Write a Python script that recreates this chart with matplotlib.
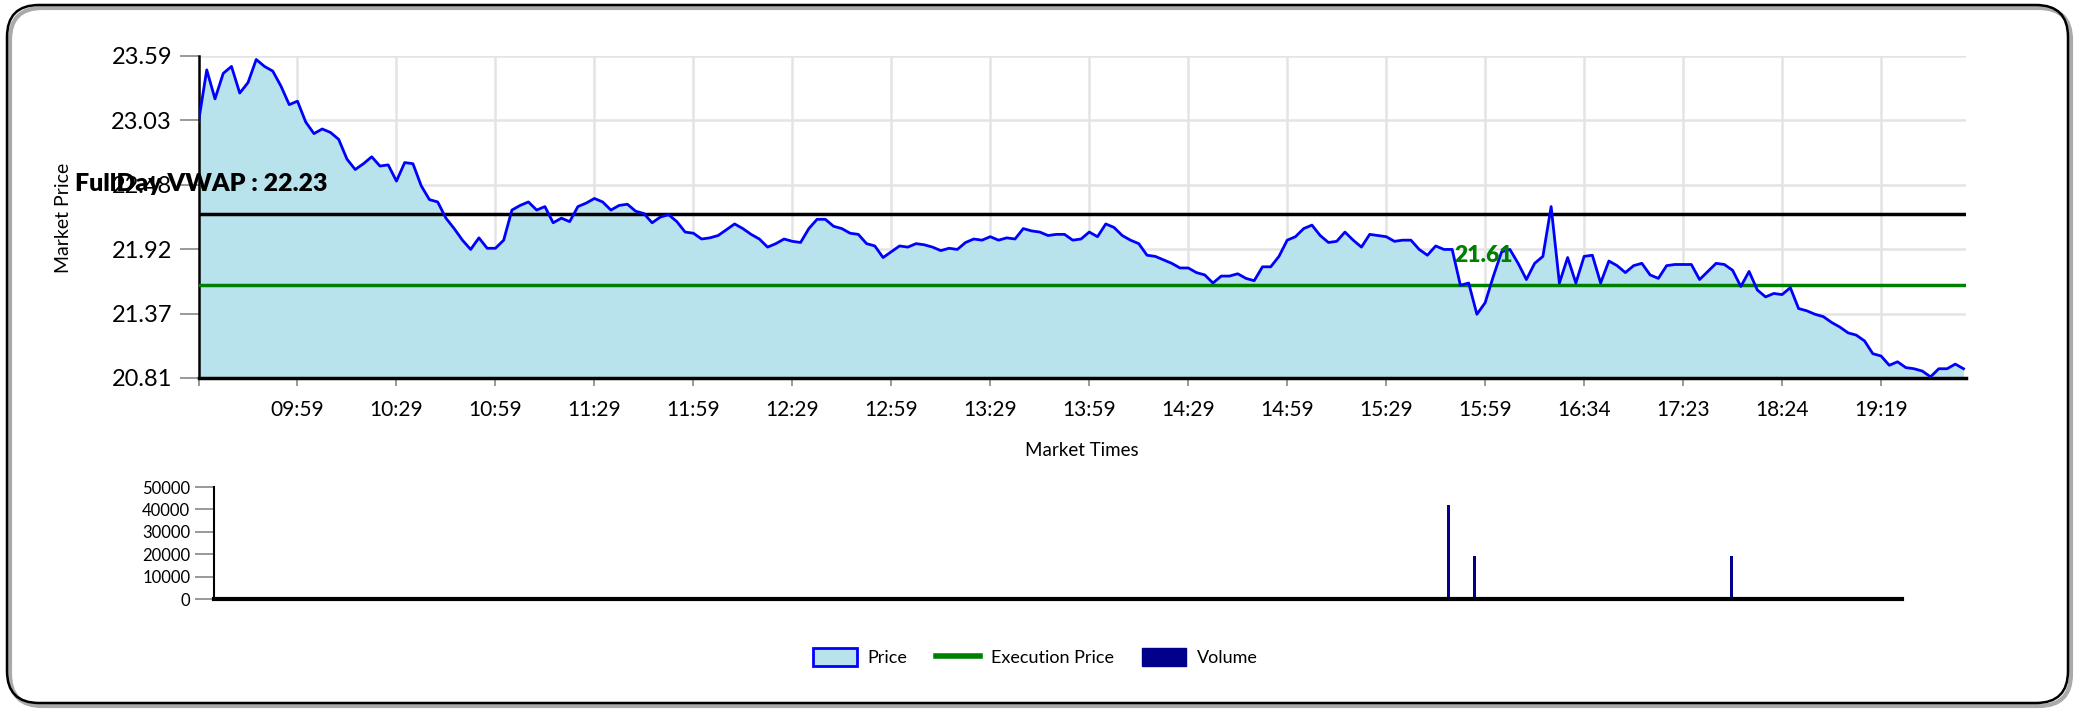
import numpy as np
import matplotlib.pyplot as plt
from matplotlib.patches import FancyBboxPatch, Patch
from matplotlib.lines import Line2D

plt.rcParams['font.family'] = ['Lato', 'DejaVu Sans']

# price every few minutes (12 points between time labels)
price = [
    23.02, 23.47, 23.22, 23.44, 23.50, 23.27, 23.36, 23.56, 23.50, 23.46, 23.33, 23.17,
    23.20, 23.02, 22.92, 22.96, 22.93, 22.87, 22.70, 22.61, 22.66, 22.72, 22.64, 22.65,
    22.51, 22.67, 22.66, 22.47, 22.35, 22.33, 22.19, 22.10, 22.00, 21.92, 22.02, 21.93,
    21.93, 22.00, 22.26, 22.30, 22.33, 22.26, 22.29, 22.15, 22.19, 22.16, 22.29, 22.32,
    22.36, 22.33, 22.26, 22.30, 22.31, 22.25, 22.23, 22.15, 22.20, 22.22, 22.16, 22.07,
    22.06, 22.01, 22.02, 22.04, 22.09, 22.14, 22.10, 22.05, 22.01, 21.94, 21.97, 22.01,
    21.99, 21.98, 22.10, 22.18, 22.18, 22.12, 22.10, 22.06, 22.05, 21.97, 21.95, 21.85,
    21.90, 21.95, 21.94, 21.97, 21.96, 21.94, 21.91, 21.93, 21.92, 21.98, 22.01, 22.00,
    22.03, 22.00, 22.02, 22.01, 22.10, 22.08, 22.07, 22.04, 22.05, 22.05, 22.00, 22.01,
    22.07, 22.03, 22.14, 22.11, 22.04, 22.00, 21.97, 21.87, 21.86, 21.83, 21.80, 21.76,
    21.76, 21.72, 21.70, 21.63, 21.69, 21.69, 21.71, 21.67, 21.65, 21.77, 21.77, 21.86,
    22.00, 22.03, 22.10, 22.13, 22.04, 21.98, 21.99, 22.07, 22.00, 21.94, 22.05, 22.04,
    22.03, 21.99, 22.00, 22.00, 21.92, 21.87, 21.95, 21.92, 21.92, 21.61, 21.63, 21.36,
    21.46, 21.69, 21.90, 21.92, 21.80, 21.66, 21.80, 21.86, 22.29, 21.63, 21.85, 21.63,
    21.86, 21.87, 21.63, 21.82, 21.78, 21.72, 21.78, 21.80, 21.70, 21.67, 21.78, 21.79,
    21.79, 21.79, 21.66, 21.73, 21.80, 21.79, 21.74, 21.60, 21.73, 21.57, 21.51, 21.54,
    21.53, 21.59, 21.41, 21.39, 21.36, 21.34, 21.29, 21.25, 21.20, 21.18, 21.13, 21.02,
    21.00, 20.92, 20.95, 20.90, 20.89, 20.87, 20.82, 20.89, 20.89, 20.93, 20.89,
]
time_labels = ['09:59', '10:29', '10:59', '11:29', '11:59', '12:29', '12:59', '13:29',
               '13:59', '14:29', '14:59', '15:29', '15:59', '16:34', '17:23', '18:24', '19:19']
label_every = 12
vwap = 22.23
exec_price = 21.61
y_min, y_max = 20.81, 23.59

vol_index = [8, 155.7, 156.7, 160, 166, 192.7]
vol_value = [200, 900, 42000, 19200, 300, 19200]

fill_col = '#b9e3ec'
navy = '#00008b'

x = np.arange(len(price))
x_end = len(price) - 0.7

fig = plt.figure(figsize=(20.75, 7.09), dpi=100)

# rounded frame with a soft shadow
shadow = FancyBboxPatch((0.10, 0.03), 20.61, 6.98, boxstyle='round,pad=0,rounding_size=0.32',
                        transform=fig.dpi_scale_trans, facecolor='none', edgecolor='#aaaaaa', lw=3)
border = FancyBboxPatch((0.07, 0.06), 20.61, 6.98, boxstyle='round,pad=0,rounding_size=0.32',
                        transform=fig.dpi_scale_trans, facecolor='none', edgecolor='black', lw=1.8)
fig.patches.extend([shadow, border])

# price chart
ax = fig.add_axes([198.5 / 2075, 1 - 378 / 709, (1966 - 198.5) / 2075, (378 - 56) / 709])
ax.fill_between(x, price, y_min, color=fill_col, zorder=1, lw=0)
ax.axhline(vwap, color='black', lw=2.5, zorder=4)
ax.axhline(exec_price, color='green', lw=2.5, zorder=4)
ax.plot(x, price, color='blue', lw=2, zorder=5)
ax.text(152.3, exec_price + 0.26, f'{exec_price:.2f}', color='green', fontsize=16.5,
        fontweight='heavy', va='center', ha='left', zorder=6)

ax.set_xlim(0, x_end)
ax.set_ylim(y_min, y_max)
ax.set_yticks(np.linspace(y_min, y_max, 6))
ax.set_yticklabels([f'{v:.2f}' for v in np.linspace(y_min, y_max, 6)])
ax.set_xticks(np.arange(0, label_every * (len(time_labels) + 1), label_every))
ax.set_xticklabels([''] + time_labels)
ax.tick_params(axis='y', labelsize=17, length=14, width=1.2, color='#888888', pad=5)
ax.tick_params(axis='x', labelsize=15, length=6, width=1.2, color='#888888', pad=10)
ax.grid(True, color='#e4e4e4', lw=1.8)
ax.set_axisbelow(True)
for s in ['top', 'right']:
    ax.spines[s].set_visible(False)
ax.spines['left'].set_linewidth(1.8)
ax.spines['bottom'].set_linewidth(2.5)

fig.text(63.5 / 2075, 1 - 218 / 709, 'Market Price', rotation=90, fontsize=14,
         ha='center', va='center')
fig.text(1082 / 2075, 1 - 451 / 709, 'Market Times', fontsize=13.5, ha='center', va='center')
fig.text(75 / 2075, 1 - 184 / 709, f'FullDay VWAP : {vwap:.2f}', fontsize=18,
         fontweight='heavy', ha='left', va='center')

# volume chart
vax = fig.add_axes([214 / 2075, 1 - 599 / 709, (1902 - 214) / 2075, (599 - 487) / 709])
vax.bar(vol_index, vol_value, width=0.35, color=navy)
vax.set_xlim(0, x_end)
vax.set_ylim(0, 50000)
vax.set_xticks([])
vax.set_yticks(range(0, 50001, 10000))
vax.tick_params(axis='y', labelsize=12, length=14, width=1.2, color='#888888', pad=3)
for s in ['top', 'right']:
    vax.spines[s].set_visible(False)
vax.spines['left'].set_linewidth(1.5)
vax.spines['bottom'].set_linewidth(3)

handles = [Patch(facecolor=fill_col, edgecolor='blue', lw=2),
           Line2D([], [], color='green', lw=4),
           Patch(facecolor=navy, edgecolor=navy)]
fig.legend(handles, ['Price', 'Execution Price', 'Volume'], loc='center',
           bbox_to_anchor=(0.499, 0.073), ncol=3, frameon=False, fontsize=13,
           handlelength=2.4, handleheight=1.1, columnspacing=1.6, handletextpad=0.6)

fig.savefig('out.png', dpi=100)
